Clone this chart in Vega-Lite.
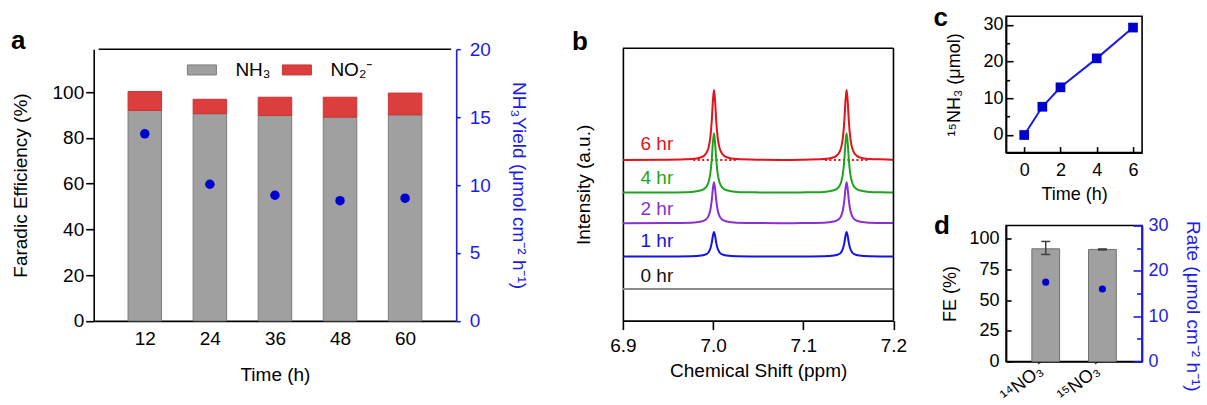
{
  "$schema": "https://vega.github.io/schema/vega-lite/v6.json",
  "padding": {"left": 10.7, "top": 3.2, "right": 0, "bottom": 0},
  "background": "white",
  "config": {
    "font": "Liberation Sans",
    "view": {"stroke": null},
    "axis": {"domainColor": "#000000", "domainWidth": 1.6, "tickColor": "#000000", "tickWidth": 1.6, "labelColor": "#000000", "titleColor": "#000000", "titleFontWeight": "normal", "grid": false, "labelFontSize": 19, "titleFontSize": 19, "labelOverlap": false, "labelFlush": false},
    "title": {"anchor": "start", "frame": "group", "fontSize": 26, "fontWeight": "bold", "offset": 0, "baseline": "alphabetic", "color": "#000000"}
  },
  "datasets": {
    "fe": [
      {"time": 12, "kind": "NH₃", "fe": 92.0, "ord": 1}, {"time": 12, "kind": "NO₂⁻", "fe": 8.3, "ord": 2},
      {"time": 24, "kind": "NH₃", "fe": 90.6, "ord": 1}, {"time": 24, "kind": "NO₂⁻", "fe": 6.3, "ord": 2},
      {"time": 36, "kind": "NH₃", "fe": 89.8, "ord": 1}, {"time": 36, "kind": "NO₂⁻", "fe": 8.0, "ord": 2},
      {"time": 48, "kind": "NH₃", "fe": 89.1, "ord": 1}, {"time": 48, "kind": "NO₂⁻", "fe": 8.7, "ord": 2},
      {"time": 60, "kind": "NH₃", "fe": 90.1, "ord": 1}, {"time": 60, "kind": "NO₂⁻", "fe": 9.5, "ord": 2}
    ],
    "yield": [
      {"time": 12, "y": 13.77}, {"time": 24, "y": 10.06}, {"time": 36, "y": 9.25}, {"time": 48, "y": 8.85}, {"time": 60, "y": 9.03}
    ],
    "nmr": [
      {"s":"6 hr","x":6.9,"y":160.7},{"s":"6 hr","x":6.951,"y":160.9},{"s":"6 hr","x":6.976,"y":161.6},{"s":"6 hr","x":6.987,"y":163.4},{"s":"6 hr","x":6.992,"y":166.9},{"s":"6 hr","x":6.995,"y":173.2},{"s":"6 hr","x":6.997,"y":183.7},{"s":"6 hr","x":6.9985,"y":199.6},{"s":"6 hr","x":6.9998,"y":219.9},{"s":"6 hr","x":7.001,"y":230.7},{"s":"6 hr","x":7.0022,"y":219.9},{"s":"6 hr","x":7.0035,"y":199.6},{"s":"6 hr","x":7.005,"y":183.7},{"s":"6 hr","x":7.007,"y":173.2},{"s":"6 hr","x":7.01,"y":166.9},{"s":"6 hr","x":7.015,"y":163.4},{"s":"6 hr","x":7.026,"y":161.6},{"s":"6 hr","x":7.051,"y":160.9},{"s":"6 hr","x":7.075,"y":160.7},{"s":"6 hr","x":7.098,"y":160.9},{"s":"6 hr","x":7.123,"y":161.6},{"s":"6 hr","x":7.134,"y":163.4},{"s":"6 hr","x":7.139,"y":166.9},{"s":"6 hr","x":7.142,"y":173.2},{"s":"6 hr","x":7.144,"y":183.7},{"s":"6 hr","x":7.1455,"y":199.6},{"s":"6 hr","x":7.1468,"y":219.9},{"s":"6 hr","x":7.148,"y":230.7},{"s":"6 hr","x":7.1492,"y":219.9},{"s":"6 hr","x":7.1505,"y":199.6},{"s":"6 hr","x":7.152,"y":183.7},{"s":"6 hr","x":7.154,"y":173.2},{"s":"6 hr","x":7.157,"y":166.9},{"s":"6 hr","x":7.162,"y":163.4},{"s":"6 hr","x":7.173,"y":161.6},{"s":"6 hr","x":7.198,"y":160.9},{"s":"6 hr","x":7.2,"y":160.7},
      {"s":"4 hr","x":6.9,"y":128.0},{"s":"4 hr","x":6.951,"y":128.2},{"s":"4 hr","x":6.976,"y":128.7},{"s":"4 hr","x":6.987,"y":130.3},{"s":"4 hr","x":6.992,"y":133.2},{"s":"4 hr","x":6.995,"y":138.6},{"s":"4 hr","x":6.997,"y":147.5},{"s":"4 hr","x":6.9985,"y":161.0},{"s":"4 hr","x":6.9998,"y":178.2},{"s":"4 hr","x":7.001,"y":187.4},{"s":"4 hr","x":7.0022,"y":178.2},{"s":"4 hr","x":7.0035,"y":161.0},{"s":"4 hr","x":7.005,"y":147.5},{"s":"4 hr","x":7.007,"y":138.6},{"s":"4 hr","x":7.01,"y":133.2},{"s":"4 hr","x":7.015,"y":130.3},{"s":"4 hr","x":7.026,"y":128.7},{"s":"4 hr","x":7.051,"y":128.2},{"s":"4 hr","x":7.075,"y":128.0},{"s":"4 hr","x":7.098,"y":128.2},{"s":"4 hr","x":7.123,"y":128.7},{"s":"4 hr","x":7.134,"y":130.3},{"s":"4 hr","x":7.139,"y":133.2},{"s":"4 hr","x":7.142,"y":138.6},{"s":"4 hr","x":7.144,"y":147.5},{"s":"4 hr","x":7.1455,"y":161.0},{"s":"4 hr","x":7.1468,"y":178.2},{"s":"4 hr","x":7.148,"y":187.4},{"s":"4 hr","x":7.1492,"y":178.2},{"s":"4 hr","x":7.1505,"y":161.0},{"s":"4 hr","x":7.152,"y":147.5},{"s":"4 hr","x":7.154,"y":138.6},{"s":"4 hr","x":7.157,"y":133.2},{"s":"4 hr","x":7.162,"y":130.3},{"s":"4 hr","x":7.173,"y":128.7},{"s":"4 hr","x":7.198,"y":128.2},{"s":"4 hr","x":7.2,"y":128.0},
      {"s":"2 hr","x":6.9,"y":97.4},{"s":"2 hr","x":6.951,"y":97.5},{"s":"2 hr","x":6.976,"y":97.9},{"s":"2 hr","x":6.987,"y":99.0},{"s":"2 hr","x":6.992,"y":101.0},{"s":"2 hr","x":6.995,"y":104.7},{"s":"2 hr","x":6.997,"y":110.9},{"s":"2 hr","x":6.9985,"y":120.2},{"s":"2 hr","x":6.9998,"y":132.0},{"s":"2 hr","x":7.001,"y":138.4},{"s":"2 hr","x":7.0022,"y":132.0},{"s":"2 hr","x":7.0035,"y":120.2},{"s":"2 hr","x":7.005,"y":110.9},{"s":"2 hr","x":7.007,"y":104.7},{"s":"2 hr","x":7.01,"y":101.0},{"s":"2 hr","x":7.015,"y":99.0},{"s":"2 hr","x":7.026,"y":97.9},{"s":"2 hr","x":7.051,"y":97.5},{"s":"2 hr","x":7.075,"y":97.4},{"s":"2 hr","x":7.098,"y":97.5},{"s":"2 hr","x":7.123,"y":97.9},{"s":"2 hr","x":7.134,"y":99.0},{"s":"2 hr","x":7.139,"y":101.0},{"s":"2 hr","x":7.142,"y":104.7},{"s":"2 hr","x":7.144,"y":110.9},{"s":"2 hr","x":7.1455,"y":120.2},{"s":"2 hr","x":7.1468,"y":132.0},{"s":"2 hr","x":7.148,"y":138.4},{"s":"2 hr","x":7.1492,"y":132.0},{"s":"2 hr","x":7.1505,"y":120.2},{"s":"2 hr","x":7.152,"y":110.9},{"s":"2 hr","x":7.154,"y":104.7},{"s":"2 hr","x":7.157,"y":101.0},{"s":"2 hr","x":7.162,"y":99.0},{"s":"2 hr","x":7.173,"y":97.9},{"s":"2 hr","x":7.198,"y":97.5},{"s":"2 hr","x":7.2,"y":97.4},
      {"s":"1 hr","x":6.9,"y":64.0},{"s":"1 hr","x":6.951,"y":64.1},{"s":"1 hr","x":6.976,"y":64.3},{"s":"1 hr","x":6.987,"y":65.0},{"s":"1 hr","x":6.992,"y":66.2},{"s":"1 hr","x":6.995,"y":68.4},{"s":"1 hr","x":6.997,"y":72.1},{"s":"1 hr","x":6.9985,"y":77.7},{"s":"1 hr","x":6.9998,"y":84.9},{"s":"1 hr","x":7.001,"y":88.7},{"s":"1 hr","x":7.0022,"y":84.9},{"s":"1 hr","x":7.0035,"y":77.7},{"s":"1 hr","x":7.005,"y":72.1},{"s":"1 hr","x":7.007,"y":68.4},{"s":"1 hr","x":7.01,"y":66.2},{"s":"1 hr","x":7.015,"y":65.0},{"s":"1 hr","x":7.026,"y":64.3},{"s":"1 hr","x":7.051,"y":64.1},{"s":"1 hr","x":7.075,"y":64.0},{"s":"1 hr","x":7.098,"y":64.1},{"s":"1 hr","x":7.123,"y":64.3},{"s":"1 hr","x":7.134,"y":65.0},{"s":"1 hr","x":7.139,"y":66.2},{"s":"1 hr","x":7.142,"y":68.4},{"s":"1 hr","x":7.144,"y":72.1},{"s":"1 hr","x":7.1455,"y":77.7},{"s":"1 hr","x":7.1468,"y":84.9},{"s":"1 hr","x":7.148,"y":88.7},{"s":"1 hr","x":7.1492,"y":84.9},{"s":"1 hr","x":7.1505,"y":77.7},{"s":"1 hr","x":7.152,"y":72.1},{"s":"1 hr","x":7.154,"y":68.4},{"s":"1 hr","x":7.157,"y":66.2},{"s":"1 hr","x":7.162,"y":65.0},{"s":"1 hr","x":7.173,"y":64.3},{"s":"1 hr","x":7.198,"y":64.1},{"s":"1 hr","x":7.2,"y":64.0},
      {"s":"0 hr","x":6.9,"y":31.7},{"s":"0 hr","x":7.2,"y":31.7}
    ],
    "nmrbase": [
      {"seg": 1, "x": 6.978, "y": 160.7}, {"seg": 1, "x": 7.026, "y": 160.7},
      {"seg": 2, "x": 7.124, "y": 160.7}, {"seg": 2, "x": 7.172, "y": 160.7}
    ],
    "blab": [
      {"s": "6 hr", "x": 6.9377, "y": 176.4}, {"s": "4 hr", "x": 6.9377, "y": 143.0}, {"s": "2 hr", "x": 6.9377, "y": 111.4}, {"s": "1 hr", "x": 6.9377, "y": 80.0}, {"s": "0 hr", "x": 6.9377, "y": 44.7}
    ],
    "c": [{"t": 0, "n": 0}, {"t": 1, "n": 7.7}, {"t": 2, "n": 13.0}, {"t": 4, "n": 20.9}, {"t": 6, "n": 29.3}],
    "d": [
      {"iso": "¹⁴NO₃⁻", "fe": 91.8, "lo": 87.2, "hi": 97.8, "rate": 17.5},
      {"iso": "¹⁵NO₃⁻", "fe": 91.3, "lo": 90.9, "hi": 91.7, "rate": 16.0}
    ]
  },
  "hconcat": [
    {
      "width": 417, "height": 304.7,
      "title": {"text": "a", "dx": -82.8, "dy": 41.4},
      "layer": [
        {
          "data": {"name": "fe"},
          "mark": {"type": "bar", "width": 33.5, "strokeWidth": 1},
          "encoding": {
            "x": {"field": "time", "type": "quantitative", "scale": {"domain": [3.5, 68.5], "range": [0, 362.5], "nice": false, "zero": false}, "axis": {"values": [12, 24, 36, 48, 60], "ticks": false, "labelPadding": 9, "title": "Time (h)", "titlePadding": 17}},
            "y": {"field": "fe", "type": "quantitative", "stack": "zero", "scale": {"domain": [0, 118.8], "range": [304.7, 33], "nice": false}, "axis": {"orient": "left", "values": [0, 20, 40, 60, 80, 100], "tickSize": 8, "labelPadding": 2, "title": "Faradic Efficiency (%)", "titlePadding": 22}},
            "color": {"field": "kind", "type": "nominal", "sort": null, "scale": {"domain": ["NH₃", "NO₂⁻"], "range": ["#a0a0a0", "#dc3d3d"]}, "legend": {"orient": "none", "legendX": 97.7, "legendY": 43, "direction": "horizontal", "title": null, "symbolType": "M-1.45,-0.5H1.45V0.5H-1.45Z", "symbolSize": 400, "labelFontSize": 19, "labelOffset": 23, "columnPadding": 9, "padding": 0, "symbolStrokeColor": "#7a7a7a", "symbolStrokeWidth": 1, "symbolOpacity": 1, "labelColor": "#000000"}},
            "stroke": {"field": "kind", "type": "nominal", "sort": null, "scale": {"domain": ["NH₃", "NO₂⁻"], "range": ["#7a7a7a", "#c93434"]}, "legend": null},
            "order": {"field": "ord", "type": "quantitative"}
          }
        },
        {
          "data": {"values": [{}]},
          "mark": {"type": "rule", "color": "#000000", "strokeWidth": 1.6},
          "encoding": {
            "x": {"datum": 3.5, "type": "quantitative"},
            "x2": {"datum": 68.5},
            "y": {"datum": 118.8, "type": "quantitative", "scale": {"domain": [0, 118.8], "range": [304.7, 33], "nice": false}, "axis": null}
          }
        },
        {
          "data": {"name": "yield"},
          "mark": {"type": "circle", "size": 90, "color": "#0000d0", "opacity": 1},
          "encoding": {
            "x": {"field": "time", "type": "quantitative"},
            "y": {"field": "y", "type": "quantitative", "scale": {"domain": [0, 20], "range": [304.7, 33], "nice": false}, "axis": {"orient": "right", "offset": -54.5, "values": [0, 5, 10, 15, 20], "tickSize": 4, "labelPadding": 9, "title": "NH₃Yield (μmol cm⁻² h⁻¹)", "titlePadding": 18, "domainColor": "#1c1ce6", "tickColor": "#1c1ce6", "labelColor": "#1c1ce6", "titleColor": "#1c1ce6"}}
          }
        }
      ],
      "resolve": {"scale": {"y": "independent"}, "axis": {"y": "independent"}}
    },
    {
      "width": 270.6, "height": 304.4,
      "title": {"text": "b", "dx": -51, "dy": 42.4},
      "layer": [
        {
          "data": {"name": "nmrbase"},
          "mark": {"type": "line", "color": "#e3121b", "strokeWidth": 2, "strokeDash": [2, 2.5]},
          "encoding": {
            "x": {"field": "x", "type": "quantitative", "scale": {"domain": [6.9, 7.2], "nice": false, "zero": false}, "axis": {"values": [6.9, 7.0, 7.1, 7.2], "format": ".1f", "tickSize": 9, "labelPadding": 7, "title": "Chemical Shift (ppm)", "titlePadding": 6}},
            "y": {"field": "y", "type": "quantitative", "scale": {"domain": [0, 272.4], "range": [304.4, 32], "nice": false, "zero": false}, "axis": {"labels": false, "ticks": false, "title": "Intensity (a.u.)", "titlePadding": 29}},
            "detail": {"field": "seg", "type": "nominal"}
          }
        },
        {
          "data": {"name": "nmr"},
          "mark": {"type": "line", "strokeWidth": 2, "interpolate": "monotone"},
          "encoding": {
            "x": {"field": "x", "type": "quantitative"},
            "y": {"field": "y", "type": "quantitative"},
            "color": {"field": "s", "type": "nominal", "scale": {"domain": ["6 hr", "4 hr", "2 hr", "1 hr", "0 hr"], "range": ["#e3121b", "#1ea51e", "#8c2fd2", "#1414e6", "#8c8c8c"]}, "legend": null}
          }
        },
        {
          "data": {"name": "blab"},
          "mark": {"type": "text", "fontSize": 19, "align": "center", "baseline": "middle"},
          "encoding": {
            "x": {"field": "x", "type": "quantitative"},
            "y": {"field": "y", "type": "quantitative"},
            "text": {"field": "s", "type": "nominal"},
            "color": {"field": "s", "type": "nominal", "scale": {"domain": ["6 hr", "4 hr", "2 hr", "1 hr", "0 hr"], "range": ["#e3121b", "#1ea51e", "#8c2fd2", "#1414e6", "#111111"]}, "legend": null}
          }
        },
        {
          "data": {"values": [{}]},
          "mark": {"type": "rule", "color": "#000000", "strokeWidth": 1.6},
          "encoding": {"x": {"datum": 6.9, "type": "quantitative"}, "x2": {"datum": 7.2}, "y": {"datum": 272.4, "type": "quantitative"}}
        },
        {
          "data": {"values": [{}]},
          "mark": {"type": "rule", "color": "#000000", "strokeWidth": 1.6},
          "encoding": {"x": {"datum": 7.2, "type": "quantitative"}, "y": {"datum": 0, "type": "quantitative"}, "y2": {"datum": 272.4}}
        }
      ],
      "resolve": {"scale": {"color": "independent"}}
    },
    {
      "vconcat": [
        {
          "width": 136, "height": 136.4,
          "view": {"stroke": "#000000", "strokeWidth": 1.6},
          "title": {"text": "c", "dx": -72.5, "dy": 18.6},
          "data": {"name": "c"},
          "layer": [
            {
              "mark": {"type": "line", "color": "#1c1ce0", "strokeWidth": 2},
              "encoding": {
                "x": {"field": "t", "type": "quantitative", "scale": {"domain": [-1, 6.5], "nice": false, "zero": false}, "axis": {"values": [0, 2, 4, 6], "tickSize": -6, "labelPadding": 15, "title": "Time (h)", "titlePadding": 6, "labelFontSize": 18, "titleFontSize": 18}},
                "y": {"field": "n", "type": "quantitative", "scale": {"domain": [-4.8, 32.4], "nice": false, "zero": false}, "axis": {"orient": "left", "values": [5, 15, 25], "tickSize": -3.5, "labels": false, "domain": false, "title": null}}
              }
            },
            {
              "mark": {"type": "square", "size": 94, "color": "#0000cc", "opacity": 1},
              "encoding": {
                "x": {"field": "t", "type": "quantitative"},
                "y": {"field": "n", "type": "quantitative", "scale": {"domain": [-4.8, 32.4], "nice": false, "zero": false}, "axis": {"orient": "left", "values": [0, 10, 20, 30], "tickSize": -7, "labelPadding": 10, "title": "¹⁵NH₃ (μmol)", "titlePadding": 20, "labelFontSize": 18, "titleFontSize": 18}}
              }
            }
          ],
          "resolve": {"scale": {"y": "independent"}, "axis": {"y": "independent"}}
        },
        {
          "width": 136, "height": 136,
          "view": {"stroke": "#000000", "strokeWidth": 1.6},
          "title": {"text": "d", "dx": -72, "dy": 26.4},
          "data": {"name": "d"},
          "encoding": {
            "x": {"field": "iso", "type": "nominal", "sort": null, "scale": {"paddingInner": 0.511, "paddingOuter": 0.455}, "axis": {"title": null, "ticks": false, "labelAngle": -38, "labelPadding": 3, "labelFontSize": 18, "labelAlign": "right", "labelBaseline": "middle"}}
          },
          "layer": [
            {
              "mark": {"type": "bar", "color": "#a0a0a0", "stroke": "#6e6e6e", "strokeWidth": 1},
              "encoding": {
                "y": {"field": "fe", "type": "quantitative", "scale": {"domain": [0, 110.8], "nice": false}, "axis": {"orient": "left", "values": [0, 25, 50, 75, 100], "tickSize": -5, "labelPadding": 12, "title": "FE (%)", "titlePadding": 10, "labelFontSize": 18, "titleFontSize": 18}}
              }
            },
            {
              "mark": {"type": "rule", "color": "#404040", "strokeWidth": 1.5},
              "encoding": {
                "y": {"field": "lo", "type": "quantitative", "scale": {"domain": [0, 110.8], "nice": false}, "axis": null},
                "y2": {"field": "hi"}
              }
            },
            {
              "mark": {"type": "tick", "orient": "horizontal", "size": 9, "thickness": 1.5, "color": "#404040", "opacity": 1},
              "encoding": {
                "y": {"field": "hi", "type": "quantitative", "scale": {"domain": [0, 110.8], "nice": false}, "axis": null}
              }
            },
            {
              "mark": {"type": "tick", "orient": "horizontal", "size": 9, "thickness": 1.5, "color": "#404040", "opacity": 1},
              "encoding": {
                "y": {"field": "lo", "type": "quantitative", "scale": {"domain": [0, 110.8], "nice": false}, "axis": null}
              }
            },
            {
              "mark": {"type": "circle", "size": 50, "color": "#0000cc", "opacity": 1},
              "encoding": {
                "y": {"field": "rate", "type": "quantitative", "scale": {"domain": [0, 30], "nice": false}, "axis": {"orient": "right", "values": [0, 10, 20, 30], "tickSize": -9, "labelPadding": 15, "title": "Rate (μmol cm⁻² h⁻¹)", "titlePadding": 14, "titleAlign": "left", "titleY": -5, "labelFontSize": 18, "titleFontSize": 19, "domainColor": "#1c1ce6", "tickColor": "#1c1ce6", "labelColor": "#1c1ce6", "titleColor": "#1c1ce6"}}
              }
            },
            {
              "mark": {"type": "circle", "size": 1, "opacity": 0},
              "encoding": {
                "y": {"field": "rate", "type": "quantitative", "scale": {"domain": [0, 30], "nice": false}, "axis": {"orient": "right", "values": [5, 15, 25], "tickSize": -5.5, "labels": false, "domain": false, "title": null, "tickColor": "#1c1ce6"}}
              }
            }
          ],
          "resolve": {"scale": {"y": "independent"}, "axis": {"y": "independent"}}
        }
      ],
      "spacing": 72.3,
      "bounds": "flush"
    }
  ],
  "spacing": 112.2,
  "bounds": "flush"
}
